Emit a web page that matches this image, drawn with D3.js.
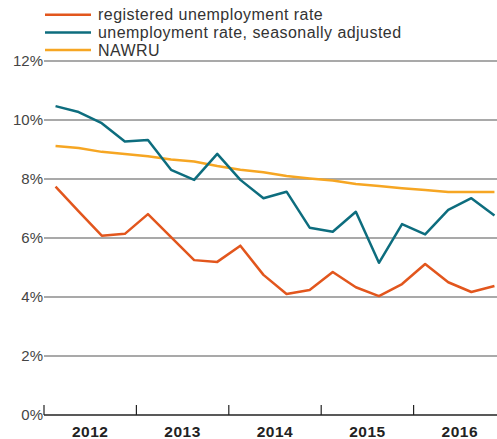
<!DOCTYPE html>
<html>
<head>
<meta charset="utf-8">
<script src="https://cdn.jsdelivr.net/npm/d3@7"></script>
<style>
  body { margin: 0; background: #fff; }
  svg { display: block; font-family: "Liberation Sans", Arial, sans-serif; }
</style>
</head>
<body>
<script>
// quarterly data 2012Q1 .. 2016Q4
const years = ["2012", "2013", "2014", "2015", "2016"];
const registered = [7.74, 6.9, 6.08, 6.14, 6.81, 6.03, 5.25, 5.19, 5.74, 4.75,
                    4.10, 4.24, 4.85, 4.33, 4.03, 4.44, 5.12, 4.50, 4.17, 4.37];
const seasonal = [10.47, 10.27, 9.89, 9.27, 9.32, 8.31, 7.97, 8.85, 7.97, 7.35,
                  7.57, 6.35, 6.21, 6.89, 5.16, 6.47, 6.12, 6.95, 7.35, 6.76];
const nawru = [9.12, 9.05, 8.92, 8.85, 8.77, 8.66, 8.59, 8.44, 8.31, 8.23,
               8.10, 8.02, 7.95, 7.83, 7.76, 7.69, 7.63, 7.56, 7.56, 7.56];
const yTicks = [0, 2, 4, 6, 8, 10, 12];

const series = [
  { name: "registered unemployment rate", values: registered, color: "#e2561d" },
  { name: "unemployment rate, seasonally adjusted", values: seasonal, color: "#0d6d7e" },
  { name: "NAWRU", values: nawru, color: "#f6a623" }
];

const width = 497, height = 439;
const left = 44, plotRight = 506;

let svg = d3.select("body").append("svg")
    .attr("width", width)
    .attr("height", height);

let x = d3.scaleLinear().domain([0, years.length * 4]).range([left, plotRight]);
let y = d3.scaleLinear().domain([0, 12]).range([415, 61]);

// gridlines + y labels
svg.append("g").selectAll("line")
    .data(yTicks.slice(1))
    .enter().append("line")
    .attr("x1", left).attr("x2", width)
    .attr("y1", d => y(d)).attr("y2", d => y(d))
    .attr("stroke", "#555").attr("stroke-width", 1.2);

svg.append("g").selectAll("text")
    .data(yTicks)
    .enter().append("text")
    .attr("x", left - 1)
    .attr("y", d => y(d) + 5)
    .attr("text-anchor", "end")
    .attr("font-size", 15)
    .attr("fill", "#444")
    .text(d => d + "%");

// x axis
svg.append("line")
    .attr("x1", left).attr("x2", width)
    .attr("y1", y(0)).attr("y2", y(0))
    .attr("stroke", "#222").attr("stroke-width", 1.5);

svg.append("g").selectAll("line")
    .data(d3.range(years.length))
    .enter().append("line")
    .attr("x1", d => x(d * 4)).attr("x2", d => x(d * 4))
    .attr("y1", y(0)).attr("y2", y(0) - 10)
    .attr("stroke", "#222").attr("stroke-width", 1.2);

svg.append("g").selectAll("text")
    .data(years)
    .enter().append("text")
    .attr("x", (d, i) => x(i * 4 + 2))
    .attr("y", 437)
    .attr("text-anchor", "middle")
    .attr("font-size", 15.5)
    .attr("letter-spacing", 0.5)
    .attr("font-weight", "bold")
    .attr("fill", "#222")
    .text(d => d);

// lines
let line = d3.line()
    .x((d, i) => x(i + 0.5))
    .y(d => y(d));

svg.append("g").selectAll("path")
    .data(series.slice().reverse())
    .enter().append("path")
    .attr("d", d => line(d.values))
    .attr("fill", "none")
    .attr("stroke", d => d.color)
    .attr("stroke-width", 2.5)
    .attr("stroke-linejoin", "round");

// legend
let legend = svg.append("g").selectAll("g")
    .data(series)
    .enter().append("g")
    .attr("transform", (d, i) => "translate(0," + (14.7 + i * 17.7) + ")");

legend.append("line")
    .attr("x1", 45).attr("x2", 91)
    .attr("stroke", d => d.color)
    .attr("stroke-width", 2.5);

legend.append("text")
    .attr("x", 98)
    .attr("y", 5.5)
    .attr("font-size", 16)
    .attr("letter-spacing", 0.45)
    .attr("fill", "#333")
    .text(d => d.name);
</script>
</body>
</html>
